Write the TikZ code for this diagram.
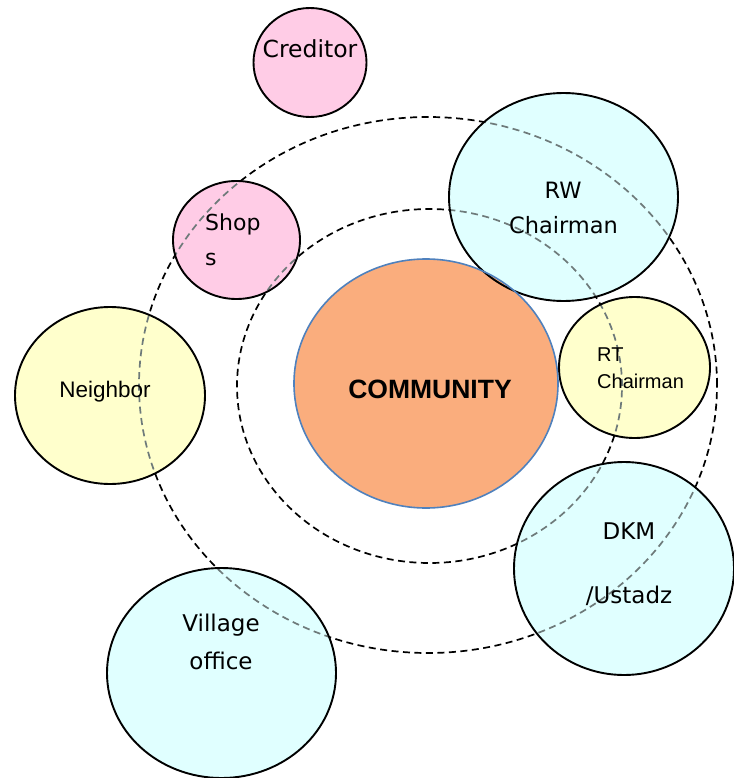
\documentclass[tikz,border=0pt]{standalone}
\usepackage{fontspec}
\setmainfont{DejaVu Sans}
\newfontfamily\arialf{Liberation Sans}
\usetikzlibrary{shapes.geometric}
\definecolor{pinkf}{HTML}{FFCCE6}
\definecolor{cyanf}{HTML}{E0FFFF}
\definecolor{yellowf}{HTML}{FFFFCC}
\definecolor{orangef}{HTML}{FAAD7D}
\definecolor{blueline}{HTML}{4F81BD}
\definecolor{dashgray}{HTML}{6E7A7A}
\newcommand{\myrings}[1]{%
  \draw[ring,#1] (429.5,386) ellipse [x radius=192.5pt, y radius=177pt];
  \draw[ring,#1] (428,385) ellipse [x radius=289pt, y radius=268pt];}
\begin{document}
\begin{tikzpicture}[x=1pt,y=-1pt,
  ring/.style={dash pattern=on 7pt off 4.5pt, line width=1.7pt},
  bubble/.style={ellipse, inner sep=0pt, draw=black, line width=1.9pt},
  lbl/.style={inner sep=0pt, anchor=base, font=\fontsize{23}{27}\selectfont},
  lblw/.style={inner sep=0pt, anchor=base west}]
\useasboundingbox (0,0) rectangle (733,778);
% outer and inner rings
\myrings{black}
% bubble fills with rings showing through
\foreach \cx/\cy/\rx/\ry/\col in {
  310/62.5/56.5/54.5/pinkf,
  236.5/240/63.5/59/pinkf,
  563.5/197/114.5/104/cyanf,
  634.5/367.5/75.5/70.5/yellowf,
  426/383.5/132/124.5/orangef,
  110/395.5/95/88.5/yellowf,
  221.5/673/114.5/105/cyanf,
  624/568.5/110/106.5/cyanf}{
  \fill[\col] (\cx,\cy) ellipse [x radius=\rx pt, y radius=\ry pt];
  \begin{scope}
    \clip (\cx,\cy) ellipse [x radius=\rx pt, y radius=\ry pt];
    \myrings{dashgray}
  \end{scope}
}
% bubble outlines (named nodes)
\node[bubble, minimum width=113pt, minimum height=109pt] (creditor) at (310,62.5) {};
\node[bubble, minimum width=127pt, minimum height=118pt] (shops) at (236.5,240) {};
\node[bubble, minimum width=229pt, minimum height=208pt] (rw) at (563.5,197) {};
\node[bubble, minimum width=151pt, minimum height=141pt] (rt) at (634.5,367.5) {};
\node[bubble, draw=blueline, line width=1.6pt, minimum width=264pt, minimum height=249pt] (community) at (426,383.5) {};
\node[bubble, minimum width=190pt, minimum height=177pt] (neighbor) at (110,395.5) {};
\node[bubble, minimum width=229pt, minimum height=210pt] (village) at (221.5,673) {};
\node[bubble, minimum width=220pt, minimum height=213pt] (dkm) at (624,568.5) {};
% labels
\node[lbl, font=\fontsize{23.5}{27}\selectfont] (tcred) at (310,58) {Creditor};
\node[lblw, font=\fontsize{22}{26}\selectfont] (tshop1) at (205,230) {Shop};
\node[lblw, font=\fontsize{22}{26}\selectfont] (tshop2) at (205,265) {s};
\node[lbl, font=\fontsize{22.5}{26}\selectfont] (trw1) at (563,198) {RW};
\node[lbl, font=\fontsize{22.5}{26}\selectfont] (trw2) at (563.5,233) {Chairman};
\node[lblw, font=\arialf\fontsize{20}{24}\selectfont] (trt1) at (597,361) {RT};
\node[lblw, font=\arialf\fontsize{20}{24}\selectfont] (trt2) at (597,388) {Chairman};
\node[lbl, font=\arialf\bfseries\fontsize{26.5}{30}\selectfont] (tcom) at (430,398) {COMMUNITY};
\node[lbl, font=\arialf\fontsize{22.5}{26}\selectfont] (tnei) at (105,397) {Neighbor};
\node[lbl] (tvil1) at (221,631) {Village};
\node[lbl] (tvil2) at (221,669) {office};
\node[lbl] (tdkm1) at (629,539) {DKM};
\node[lbl] (tdkm2) at (629,603) {/Ustadz};
\end{tikzpicture}
\end{document}
